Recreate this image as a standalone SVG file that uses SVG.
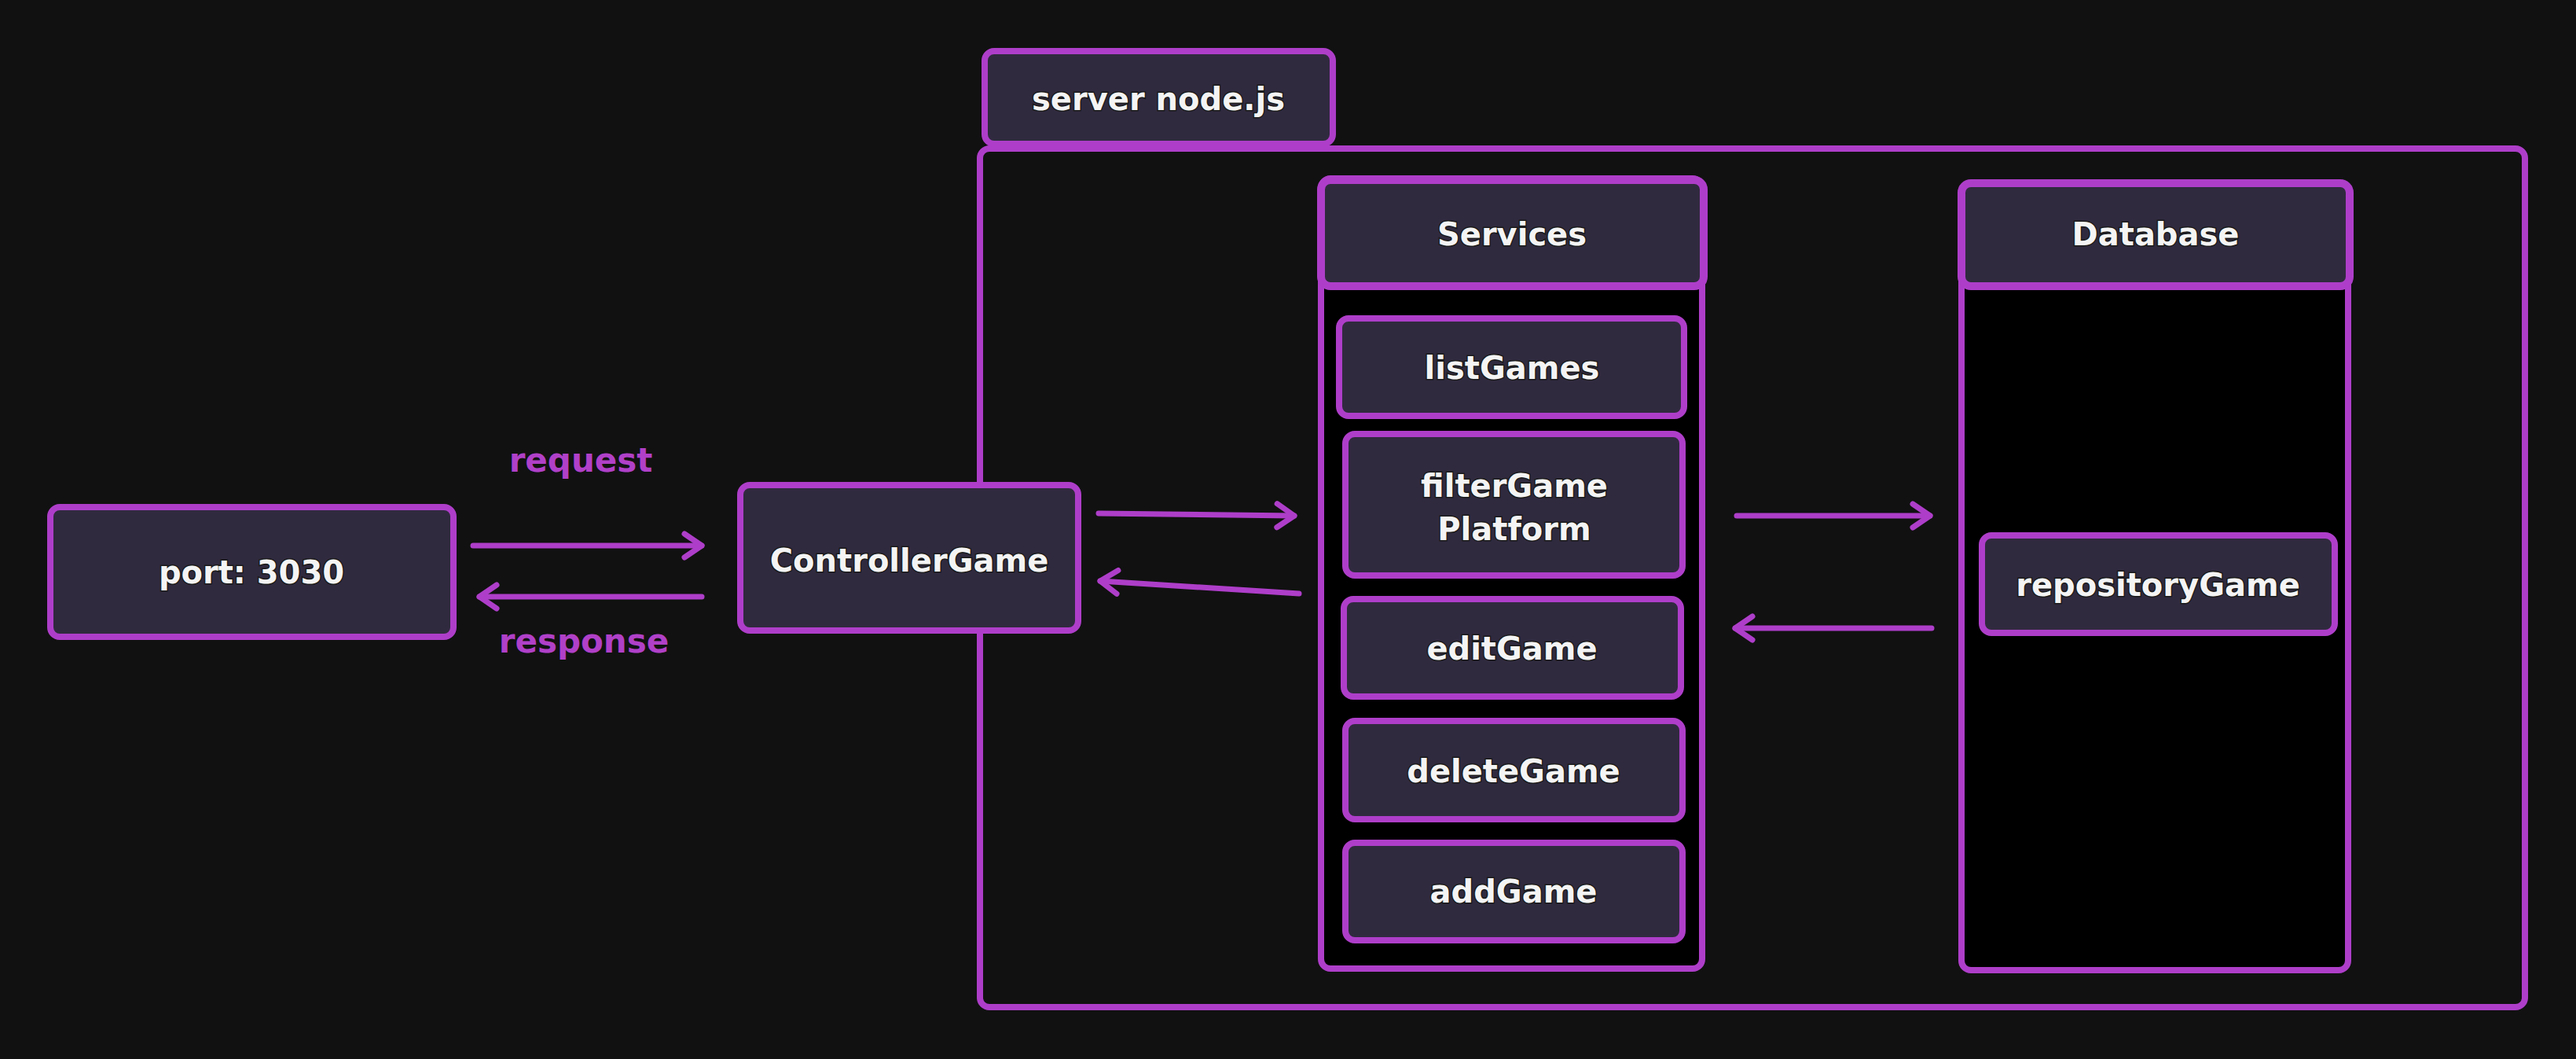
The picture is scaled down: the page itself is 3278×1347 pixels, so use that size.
<svg xmlns="http://www.w3.org/2000/svg" width="3278" height="1347" viewBox="0 0 3278 1347">
  <defs>
    <style>
      .box { fill: #302a3f; stroke: #ae3ec9; stroke-width: 8; }
      .col { fill: #000000; stroke: #ae3ec9; stroke-width: 8; }
      .frame { fill: #111111; stroke: #ae3ec9; stroke-width: 8; }
      .hdr { fill: #302a3f; stroke: #ae3ec9; stroke-width: 10; }
      .t { font-family: "DejaVu Sans", "Liberation Sans", sans-serif; font-weight: bold; font-size: 40px; fill: #f4f4f4; stroke: #1a1a1a; stroke-width: 3; paint-order: stroke; text-anchor: middle; }
      .lbl { font-family: "DejaVu Sans", "Liberation Sans", sans-serif; font-weight: bold; font-size: 42px; fill: #b040c8; text-anchor: middle; }
      .arrow { fill: none; stroke: #ae3ec9; stroke-width: 7; stroke-linecap: round; marker-end: url(#head); }
    </style>
    <marker id="head" markerUnits="userSpaceOnUse" markerWidth="40" markerHeight="40" viewBox="-30 -20 40 40" refX="0" refY="0" orient="auto">
      <path d="M-22,-15 L0,0 L-22,15" fill="none" stroke="#ae3ec9" stroke-width="7" stroke-linecap="round" stroke-linejoin="round"/>
    </marker>
  </defs>
  <rect x="0" y="0" width="3278" height="1347" fill="#111111"/>

  <g id="server-container">
    <rect class="frame" x="1247" y="189" width="1966" height="1092" rx="12"/>
  </g>
  <g id="server-tab">
    <rect class="box" x="1253" y="65" width="443" height="118" rx="12"/>
    <text class="t" x="1474" y="140">server node.js</text>
  </g>

  <g id="port">
    <rect class="box" x="64" y="645" width="513" height="165" rx="12"/>
    <text class="t" x="320" y="742">port: 3030</text>
  </g>

  <g id="controller">
    <rect class="box" x="942" y="617" width="430" height="185" rx="12"/>
    <text class="t" x="1157" y="727">ControllerGame</text>
  </g>

  <g id="services">
    <rect class="col" x="1681" y="227" width="485" height="1005" rx="12"/>
    <rect class="hdr" x="1681" y="229" width="487" height="135" rx="12"/>
    <text class="t" x="1924" y="312">Services</text>
  </g>
  <g id="listGames">
    <rect class="box" x="1704" y="405" width="439" height="124" rx="12"/>
    <text class="t" x="1924" y="482">listGames</text>
  </g>
  <g id="filterGamePlatform">
    <rect class="box" x="1712" y="552" width="429" height="180" rx="12"/>
    <text class="t" x="1927" y="632">filterGame</text>
    <text class="t" x="1927" y="687">Platform</text>
  </g>
  <g id="editGame">
    <rect class="box" x="1710" y="762" width="429" height="124" rx="12"/>
    <text class="t" x="1924" y="839">editGame</text>
  </g>
  <g id="deleteGame">
    <rect class="box" x="1712" y="917" width="429" height="125" rx="12"/>
    <text class="t" x="1926" y="995">deleteGame</text>
  </g>
  <g id="addGame">
    <rect class="box" x="1712" y="1072" width="429" height="124" rx="12"/>
    <text class="t" x="1926" y="1148">addGame</text>
  </g>

  <g id="database">
    <rect class="col" x="2496" y="233" width="492" height="1001" rx="12"/>
    <rect class="hdr" x="2496" y="233" width="494" height="131" rx="12"/>
    <text class="t" x="2743" y="312">Database</text>
  </g>
  <g id="repositoryGame">
    <rect class="box" x="2522" y="681" width="449" height="124" rx="12"/>
    <text class="t" x="2746" y="758">repositoryGame</text>
  </g>

  <g id="connectors">
    <line class="arrow" x1="602" y1="694" x2="893" y2="694"/>
    <line class="arrow" x1="893" y1="759" x2="610" y2="759"/>
    <line class="arrow" x1="1398" y1="653" x2="1647" y2="656"/>
    <line class="arrow" x1="1653" y1="755" x2="1400" y2="739"/>
    <line class="arrow" x1="2210" y1="656" x2="2456" y2="656"/>
    <line class="arrow" x1="2458" y1="799" x2="2208" y2="799"/>
    <text class="lbl" x="739" y="600">request</text>
    <text class="lbl" x="743" y="830">response</text>
  </g>
</svg>
